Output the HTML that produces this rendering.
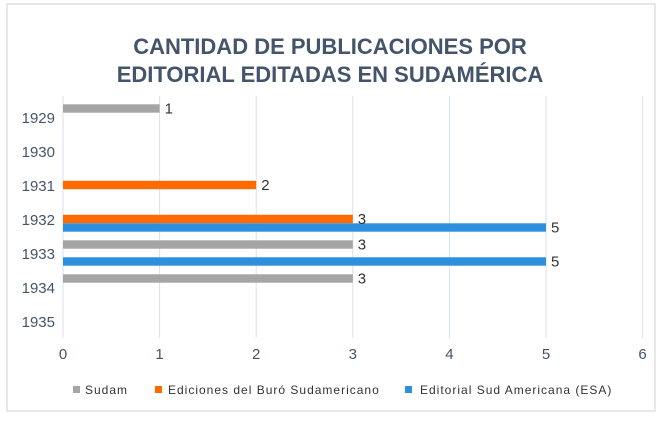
<!DOCTYPE html>
<html><head><meta charset="utf-8"><style>
body{margin:0;background:#fff;}
svg text{font-family:"Liberation Sans",sans-serif;}
</style></head><body>
<svg id="chart" width="665" height="419">
<rect x="7" y="4" width="648" height="407" fill="#fff" stroke="#d0d0d0"/>
<text x="330" y="54" text-anchor="middle" font-size="22" font-weight="bold" fill="#44546a">CANTIDAD DE PUBLICACIONES POR</text>
<text x="330" y="82" text-anchor="middle" font-size="22" font-weight="bold" fill="#44546a">EDITORIAL EDITADAS EN SUDAMÉRICA</text>
<g id="grid"></g><g id="bars"></g><g id="labels"></g>
<g letter-spacing="1">
<rect x="73" y="386" width="7" height="7" fill="#a5a5a5"/>
<text x="85" y="394" font-size="12" fill="#333">Sudam</text>
<rect x="155" y="386" width="7" height="7" fill="#fe6a00"/>
<text x="168" y="394" font-size="12" fill="#333">Ediciones del Buró Sudamericano</text>
<rect x="405" y="386" width="7" height="7" fill="#2e8fdf"/>
<text x="420" y="394" font-size="12" fill="#333">Editorial Sud Americana (ESA)</text>
</g>
</svg>
<script>
const categories=["1929","1930","1931","1932","1933","1934","1935"];
const sudam=[1,0,0,0,3,3,0];
const ediciones=[0,0,2,3,0,0,0];
const esa=[0,0,0,5,5,0,0];
const xTicks=[0,1,2,3,4,5,6];
const NS="http://www.w3.org/2000/svg";
const x0=63,unit=96.6,yTop=96,yBot=338;
function xs(v){return x0+v*unit;}
function ys(i){return 117+i*34;}
function mk(t,a,p){const e=document.createElementNS(NS,t);for(const k in a)e.setAttribute(k,a[k]);document.getElementById(p).appendChild(e);return e;}
xTicks.forEach(t=>{
 const l=mk('line',{x1:xs(t),x2:xs(t),y1:yTop,y2:yBot,stroke:'#d9e1ea','stroke-width':1},'grid');
 
 
 const tx=mk('text',{x:xs(t),y:359,'text-anchor':'middle','font-size':15,fill:'#44546a'},'labels');
 tx.textContent=t;
 
 
});
categories.forEach((c,i)=>{
 const tx=mk('text',{x:55,y:ys(i)+6,'text-anchor':'end','font-size':15,fill:'#44546a'},'labels');
 tx.textContent=c;
 
 
});
const series=[[sudam,'#a5a5a5',-8.5,'sudam'],[ediciones,'#fe6a00',0,'ediciones'],[esa,'#2e8fdf',8.5,'esa']];
series.forEach(([vals,col,off,nm])=>{
 vals.forEach((v,i)=>{
  if(!v)return;
  const cy=ys(i)+off;
  const r=mk('rect',{x:xs(0),y:cy-4.2,width:xs(v)-xs(0),height:8.4,fill:col},'bars');
  
  
  const t=mk('text',{x:xs(v)+5,y:cy+5,'font-size':15,fill:'#333'},'labels');
  t.textContent=v;
  
  
 });
});
</script>
</body></html>
